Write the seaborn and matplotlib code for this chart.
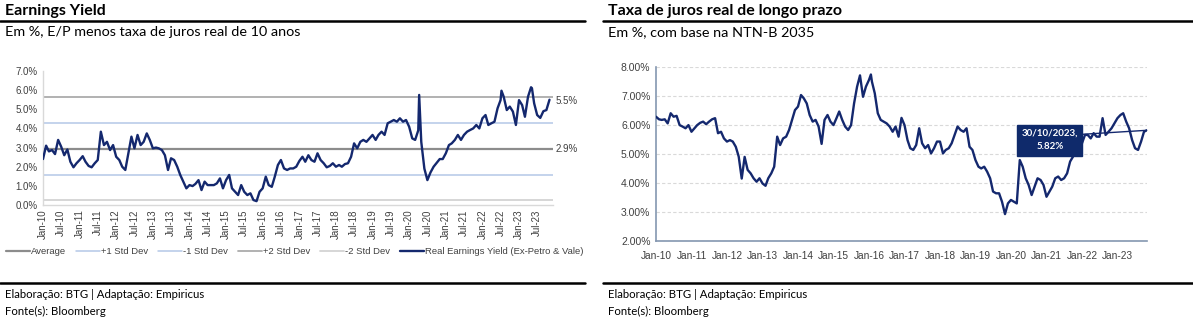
import matplotlib
matplotlib.use("Agg")
import numpy as np
import pandas as pd
import matplotlib.pyplot as plt
import matplotlib.dates as mdates
from matplotlib.lines import Line2D
from matplotlib.ticker import FuncFormatter, MultipleLocator
import seaborn as sns

# ---------------- data: Earnings Yield (monthly from Jan-10) ----------------
ey_values = [
    2.4, 3.1, 2.8, 2.87, 2.66, 3.4, 3.05, 2.6, 2.9, 2.26, 1.97, 2.18,      # 2010
    2.35, 2.55, 2.26, 2.04, 1.97, 2.18, 2.35, 3.83, 3.13, 3.3, 2.87, 3.13,  # 2011
    2.52, 2.35, 2.0, 1.83, 2.7, 3.57, 2.96, 3.66, 3.13, 3.3, 3.74, 3.4,     # 2012
    2.96, 3.0, 2.96, 2.87, 2.6, 1.83, 2.44, 2.35, 2.0, 1.57, 1.22, 0.87,    # 2013
    1.04, 0.99, 1.1, 1.3, 0.78, 1.22, 1.04, 1.04, 1.04, 1.13, 1.39, 0.87,   # 2014
    1.3, 1.57, 0.87, 0.69, 0.52, 1.04, 0.69, 0.52, 0.61, 0.26, 0.2, 0.69,   # 2015
    0.87, 1.48, 1.04, 0.95, 1.48, 2.09, 2.35, 1.91, 1.83, 1.91, 1.91, 2.0,  # 2016
    2.3, 2.52, 2.26, 2.6, 2.35, 2.26, 2.7, 2.35, 2.18, 1.97, 2.04, 2.18,    # 2017
    2.0, 2.09, 2.0, 2.14, 2.18, 2.52, 3.22, 2.96, 3.3, 3.4, 3.3, 3.48,      # 2018
    3.66, 3.4, 3.66, 3.83, 3.66, 4.27, 4.35, 4.44, 4.35, 4.53, 4.35, 4.44,  # 2019
    4.09, 3.48, 3.4, 3.9, 3.3, 1.9, 1.3, 1.7, 2.0, 2.2, 2.4, 2.4,          # 2020
    2.7, 3.13, 3.22, 3.4, 3.66, 3.4, 3.66, 3.83, 3.92, 4.0, 4.18, 4.0,      # 2021
    4.53, 4.7, 4.18, 4.27, 4.35, 5.05, 5.48, 5.66, 4.96, 5.14, 4.88, 4.18,  # 2022
    5.48, 5.22, 4.61, 5.66, 6.15, 5.31, 4.7, 4.55, 4.9, 4.96, 5.5,         # 2023
]
ey_extra_dates = ["2020-04-10", "2022-07-10", "2023-05-10"]
ey_extra_values = [5.75, 5.97, 6.1]
ey_average = 2.94
ey_plus1, ey_minus1 = 4.29, 1.59
ey_plus2, ey_minus2 = 5.64, 0.24
ey_last_label = "5.5%"
ey_avg_label = "2.9%"

# ---------------- data: NTN-B 2035 real rate (monthly from Jan-10) ----------------
ntnb_values = [
    6.29, 6.2, 6.18, 6.2, 6.06, 6.41, 6.29, 6.32, 6.0, 5.95, 5.89, 6.0,     # 2010
    5.77, 5.89, 6.0, 6.08, 6.12, 6.03, 6.12, 6.2, 6.24, 5.72, 5.77, 5.54,   # 2011
    5.43, 5.48, 5.43, 5.25, 4.91, 4.15, 4.9, 4.45, 4.33, 4.16, 4.04, 4.16,  # 2012
    3.98, 3.9, 4.16, 4.33, 4.56, 5.6, 5.31, 5.54, 5.6, 5.83, 6.18, 6.52,    # 2013
    6.64, 7.04, 6.93, 6.75, 6.35, 6.12, 6.18, 5.95, 5.35, 6.18, 6.35, 6.12, # 2014
    6.0, 6.24, 6.47, 6.18, 5.95, 5.83, 6.0, 6.75, 7.33, 7.72, 6.98, 7.33,   # 2015
    7.56, 7.5, 7.1, 6.41, 6.18, 6.12, 6.06, 5.95, 5.77, 5.95, 5.6, 6.25,    # 2016
    6.0, 5.48, 5.2, 5.14, 5.31, 5.89, 5.37, 5.2, 5.31, 5.02, 5.2, 5.43,     # 2017
    5.43, 5.02, 5.14, 5.2, 5.37, 5.66, 5.95, 5.83, 5.77, 5.89, 5.25, 5.14,  # 2018
    4.79, 4.56, 4.5, 4.56, 4.39, 4.16, 3.7, 3.64, 3.64, 3.35, 2.92, 3.29,   # 2019
    3.41, 3.35, 3.29, 4.79, 4.56, 4.16, 3.93, 3.58, 3.87, 4.16, 4.1, 3.93,  # 2020
    3.52, 3.7, 3.87, 4.16, 4.22, 4.1, 4.16, 4.33, 4.74, 4.91, 5.14, 5.25,   # 2021
    5.37, 5.66, 5.66, 5.54, 5.72, 5.6, 5.6, 6.24, 5.66, 5.77, 5.89, 6.06,   # 2022
    6.24, 6.35, 6.41, 6.12, 5.89, 5.48, 5.2, 5.14, 5.43, 5.77,              # 2023
]
ntnb_extra_dates = ["2016-01-21", "2023-10-30"]
ntnb_extra_values = [7.75, 5.82]
ntnb_note = "30/10/2023,\n5.82%"

# ---------------- frames ----------------
def build(values, extra_dates, extra_values):
    d = pd.DataFrame({"date": pd.date_range("2010-01-01", periods=len(values), freq="MS"),
                      "value": values})
    e = pd.DataFrame({"date": pd.to_datetime(extra_dates), "value": extra_values})
    return pd.concat([d, e]).sort_values("date").reset_index(drop=True)

ey = build(ey_values, ey_extra_dates, ey_extra_values)
nt = build(ntnb_values, ntnb_extra_dates, ntnb_extra_values)

sns.set_theme(style="white")
plt.rcParams["font.family"] = ["Liberation Sans", "DejaVu Sans"]

W, H = 1193, 321
fig = plt.figure(figsize=(W / 100, H / 100), dpi=100)

def fx(px):
    return px / W

def fy(py):
    return 1 - py / H

NAVY = "#14286E"
TXT = "#404040"

# ---------------- left chart ----------------
ax1 = fig.add_axes([fx(43), fy(205), fx(510), 134 / H])
stat_lines = [
    (ey_average, "#8C8C8C", 1.6, "Average"),
    (ey_plus1, "#B4C7E7", 1.1, "+1 Std Dev"),
    (ey_minus1, "#B4C7E7", 1.1, "-1 Std Dev"),
    (ey_plus2, "#ABABAB", 1.3, "+2 Std Dev"),
    (ey_minus2, "#D3D3D3", 1.3, "-2 Std Dev"),
]
handles = []
for val, col, lw, lab in stat_lines:
    ax1.axhline(val, color=col, lw=lw, zorder=1)
    handles.append(Line2D([], [], color=col, lw=lw, label=lab))
sns.lineplot(data=ey, x="date", y="value", ax=ax1, color=NAVY, lw=1.7, legend=False, zorder=3)
handles.append(Line2D([], [], color=NAVY, lw=1.7, label="Real Earnings Yield (Ex-Petro & Vale)"))

ax1.set_xlim(pd.Timestamp("2010-01-01"), pd.Timestamp("2023-12-06"))
ax1.set_ylim(0, 7)
ax1.yaxis.set_major_locator(MultipleLocator(1))
ax1.yaxis.set_major_formatter(FuncFormatter(lambda v, p: f"{v:.1f}%"))
ax1.xaxis.set_major_locator(mdates.MonthLocator(bymonth=[1, 7]))
ax1.xaxis.set_major_formatter(mdates.DateFormatter("%b-%y"))
ax1.tick_params(axis="x", labelrotation=90, labelsize=7, colors=TXT, length=0, pad=3)
ax1.tick_params(axis="y", labelsize=7, colors=TXT, length=0, pad=4)
ax1.set_xlabel("")
ax1.set_ylabel("")
for s in ["top", "right"]:
    ax1.spines[s].set_visible(False)
for s in ["left", "bottom"]:
    ax1.spines[s].set_color("#D9D9D9")
    ax1.spines[s].set_linewidth(1)
ax1.set_facecolor("none")

tr1 = ax1.get_yaxis_transform()
ax1.text(1.005, 5.42, ey_last_label, transform=tr1, fontsize=7, color=TXT, va="center", ha="left")
ax1.text(1.005, ey_average, ey_avg_label, transform=tr1, fontsize=7, color=TXT, va="center", ha="left")

fig.legend(handles=handles, loc="center left", bbox_to_anchor=(fx(6), fy(252)), ncol=6,
           frameon=False, fontsize=6.8, handlelength=2.5, handletextpad=0.15, columnspacing=1.05,
           labelcolor=TXT, borderaxespad=0, borderpad=0)

# ---------------- right chart ----------------
ax2 = fig.add_axes([fx(656), fy(240.7), fx(491), 173.4 / H])
sns.lineplot(data=nt, x="date", y="value", ax=ax2, color=NAVY, lw=1.7, legend=False, zorder=3)
ax2.set_xlim(pd.Timestamp("2010-01-01"), pd.Timestamp("2023-11-01"))
ax2.set_ylim(2, 8)
ax2.yaxis.set_major_locator(MultipleLocator(1))
ax2.yaxis.set_major_formatter(FuncFormatter(lambda v, p: f"{v:.2f}%"))
ax2.xaxis.set_major_locator(mdates.YearLocator(month=1, day=1))
ax2.xaxis.set_major_formatter(mdates.DateFormatter("%b-%y"))
ax2.tick_params(axis="x", labelsize=7.3, colors=TXT, direction="inout", length=7, width=1, pad=4)
ax2.tick_params(axis="x", color="#8497B0")
ax2.tick_params(axis="y", labelsize=7.5, colors=TXT, length=0, pad=4)
ax2.grid(axis="y", color="#D9D9D9", linestyle=(0, (3, 2)), lw=0.8)
ax2.set_xlabel("")
ax2.set_ylabel("")
for s in ["top", "right"]:
    ax2.spines[s].set_visible(False)
for s in ["left", "bottom"]:
    ax2.spines[s].set_color("#8497B0")
    ax2.spines[s].set_linewidth(1.2)
ax2.set_facecolor("none")

last = nt.iloc[-1]
ax2.annotate(ntnb_note, xy=(last["date"], last["value"]),
             xytext=(pd.Timestamp("2021-02-05"), 5.48), textcoords="data",
             ha="center", va="center", fontsize=7, fontweight="bold", color="white",
             family=["Lato", "DejaVu Sans"], linespacing=1.6,
             bbox=dict(boxstyle="square,pad=0.45", fc="#0F2A6B", ec="#0F2A6B"),
             arrowprops=dict(arrowstyle="-", color=NAVY, lw=1,
                             relpos=(1, 0.75), shrinkA=0, shrinkB=0))

# ---------------- titles, rules, footers ----------------
title_font = ["Lato", "DejaVu Sans"]
for x0, x1, title, sub in [
    (0, 585, "Earnings Yield", "Em %, E/P menos taxa de juros real de 10 anos"),
    (603, 1193, "Taxa de juros real de longo prazo", "Em %, com base na NTN-B 2035"),
]:
    fig.text(fx(x0 + 5), fy(11), title, fontsize=11.5, fontweight="bold", family=title_font,
             color="black", va="center", ha="left")
    fig.add_artist(Line2D([fx(x0), fx(x1)], [fy(21), fy(21)], color="black", lw=1.8,
                          transform=fig.transFigure))
    fig.text(fx(x0 + 5), fy(32), sub, fontsize=10.4, family=title_font, color="black",
             va="center", ha="left")
    fig.add_artist(Line2D([fx(x0), fx(x1)], [fy(283), fy(283)], color="black", lw=1.8,
                          transform=fig.transFigure))
    fig.text(fx(x0 + 5), fy(294), "Elaboração: BTG | Adaptação: Empiricus", fontsize=8.2,
             family=title_font, color="black", va="center", ha="left")
    fig.text(fx(x0 + 5), fy(311), "Fonte(s): Bloomberg", fontsize=8.2,
             family=title_font, color="black", va="center", ha="left")

fig.savefig("out.png", dpi=100, facecolor="white")
